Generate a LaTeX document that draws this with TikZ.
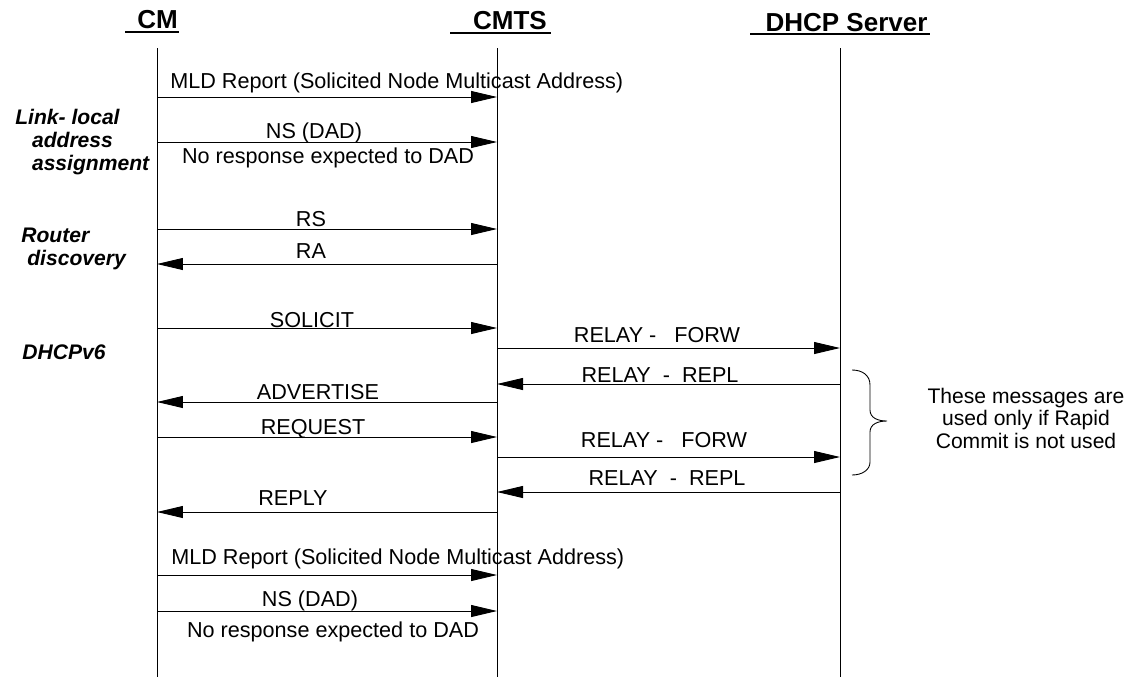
\documentclass[tikz,border=0pt]{standalone}
\usepackage{fontspec}
\setmainfont{Liberation Sans}
\usetikzlibrary{arrows.meta}

\begin{document}
\begin{tikzpicture}[x=0.02cm,y=-0.02cm,
  life/.style={line width=0.5pt},
  msg/.style={line width=0.5pt,-{Triangle[length=0.52cm,width=0.24cm]}},
  lbl/.style={inner sep=0,anchor=base,font=\fontsize{12.3}{14}\selectfont},
  head/.style={inner sep=0,anchor=base,font=\fontsize{14.8}{16}\selectfont\bfseries},
  uline/.style={line width=1.1pt},
  phase/.style={inner sep=0,anchor=west,align=left,font=\fontsize{12}{13.3}\selectfont\bfseries\itshape},
  note/.style={inner sep=0,align=center,font=\fontsize{12}{12.8}\selectfont}]
\useasboundingbox (0,0) rectangle (1138,677);
% headers
\node[head] (cmname) at (157.5,28) {CM};
\draw[uline] (125,32) -- (179,32);
\node[head] (cmtsname) at (510,29) {CMTS};
\draw[uline] (450,33) -- (551,33);
\node[head] (srvname) at (846.5,31) {DHCP Server};
\draw[uline] (750,34) -- (930,34);
% lifelines
\coordinate (cm) at (157,48);
\coordinate (cmts) at (497,48);
\coordinate (srv) at (840,48);
\coordinate (cmend) at (157,677);
\coordinate (cmtsend) at (497,677);
\coordinate (srvend) at (840,677);
\draw[life] (cm) -- (cmend);
\draw[life] (cmts) -- (cmtsend);
\draw[life] (srv) -- (srvend);
% phases
\node[phase] (linklocal) at (15,142) {Link- local\\\hspace*{9.5pt}address\\\hspace*{9.5pt}assignment};
\node[phase] (router) at (21,249) {Router\\\hspace*{3.4pt}discovery};
\node[phase] (dhcp) at (22,352) {DHCPv6};
% message rows
\coordinate (r1) at (0,97);
\coordinate (r2) at (0,142);
\coordinate (r3) at (0,229);
\coordinate (r4) at (0,264);
\coordinate (r5) at (0,328);
\coordinate (r6) at (0,348);
\coordinate (r7) at (0,384);
\coordinate (r8) at (0,402);
\coordinate (r9) at (0,437);
\coordinate (r10) at (0,457);
\coordinate (r11) at (0,492);
\coordinate (r12) at (0,512);
\coordinate (r13) at (0,575);
\coordinate (r14) at (0,611);
% link-local address assignment
\draw[msg] (cm |- r1) -- (cmts |- r1);
\node[lbl,anchor=base west] (mld) at (170,88) {MLD Report (Solicited Node Multicast Address)};
\draw[msg] (cm |- r2) -- (cmts |- r2);
\node[lbl] (ns) at (314,138) {NS (DAD)};
\node[lbl] (nores) at (328,163) {No response expected to DAD};
% router discovery
\draw[msg] (cm |- r3) -- (cmts |- r3);
\node[lbl] (rs) at (311,226) {RS};
\draw[msg] (cmts |- r4) -- (cm |- r4);
\node[lbl] (ra) at (311,258) {RA};
% DHCPv6
\draw[msg] (cm |- r5) -- (cmts |- r5);
\node[lbl] (solicit) at (312,327) {SOLICIT};
\draw[msg] (cmts |- r6) -- (srv |- r6);
\node[lbl] (forw) at (657,342) {RELAY -\ \ \ FORW};
\draw[msg] (srv |- r7) -- (cmts |- r7);
\node[lbl] (repl) at (660,382) {RELAY\ \ -\ \ REPL};
\draw[msg] (cmts |- r8) -- (cm |- r8);
\node[lbl] (advertise) at (318,399) {ADVERTISE};
\draw[msg] (cm |- r9) -- (cmts |- r9);
\node[lbl] (request) at (313,434) {REQUEST};
\draw[msg] (cmts |- r10) -- (srv |- r10);
\node[lbl] (forwb) at (664,447) {RELAY -\ \ \ FORW};
\draw[msg] (srv |- r11) -- (cmts |- r11);
\node[lbl] (replb) at (667,485) {RELAY\ \ -\ \ REPL};
\draw[msg] (cmts |- r12) -- (cm |- r12);
\node[lbl] (reply) at (293,505) {REPLY};
% second address assignment
\draw[msg] (cm |- r13) -- (cmts |- r13);
\node[lbl,anchor=base west] (mldb) at (171,564) {MLD Report (Solicited Node Multicast Address)};
\draw[msg] (cm |- r14) -- (cmts |- r14);
\node[lbl] (nsb) at (310,606) {NS (DAD)};
\node[lbl] (noresb) at (333,637) {No response expected to DAD};
% rapid commit note
\draw[line width=0.5pt] (852,370) .. controls (862,370) and (870,375) .. (870,385)
  -- (870,410) .. controls (870,418) and (878,421) .. (887,421)
  .. controls (878,421) and (870,424) .. (870,432)
  -- (870,462) .. controls (870,470) and (862,475) .. (852,475);
\node[note] (rapid) at (1026,418) {These messages are\\used only if Rapid\\Commit is not used};
\end{tikzpicture}
\end{document}
